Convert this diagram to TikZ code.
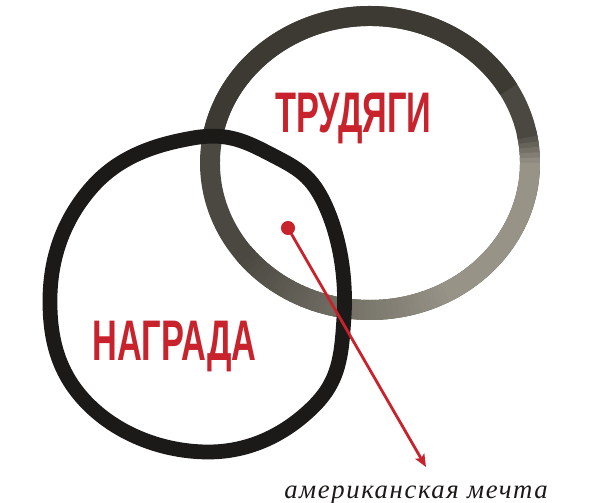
\documentclass[tikz,border=0pt]{standalone}
\usepackage{fontspec}
\usepackage{tikz}
\usetikzlibrary{arrows.meta}

\newfontfamily\titlu[FakeStretch=0.6]{Liberation Sans Bold}
\newfontfamily\cursiv[LetterSpace=6]{Liberation Serif Italic}

\definecolor{rosu}{HTML}{C8232C}
\definecolor{negru}{HTML}{1C1A18}
\definecolor{gri0}{HTML}{3D3A34}
\definecolor{gri1}{HTML}{4B4841}
\definecolor{gri5}{HTML}{979387}

\begin{document}
\begin{tikzpicture}[x=0.025cm, y=-0.025cm]
        \useasboundingbox (0,0) rectangle (600,503);

        % Desenează inelele.
        \tikzstyle{inel} = [line width=14.2pt, line cap=butt]
        \draw[inel, gri1] (370,163) ellipse [x radius=160, y radius=147];
        \draw[inel, gri0] (370,163) ++(190:160 and 147)
            arc[start angle=190, end angle=330, x radius=160, y radius=147];
        \foreach \a in {-12,-10,...,140} {
            \pgfmathsetmacro\p{max(0, min(100, 9*(\a+12), 100-1.25*(\a-60)))}
            \draw[inel, gri5!\p!gri1] (370,163) ++(\a:160 and 147)
                arc[start angle=\a, end angle=\a+2.6, x radius=160, y radius=147];
        }
        \draw[line width=10.5pt, negru] plot[smooth cycle, tension=0.7] coordinates
            {(193,138) (272,155) (326,207) (344,317) (313,407)
             (207,452) (89,405) (50,297) (93,186)};

        % Textele.
        \tikzstyle{eticheta} = [anchor=base west, inner sep=0, text=rosu,
                                font=\titlu\fontsize{40.7}{44}\selectfont]
        \node[eticheta] (trudyagi) at (275,133) {ТРУДЯГИ};
        \node[eticheta] (nagrada)  at (92,361)  {НАГРАДА};
        \node[anchor=base west, inner sep=0, text=negru,
              font=\cursiv\fontsize{19}{23}\selectfont] (mechta) at (284,499)
            {американская мечта};

        % Săgeata.
        \tikzstyle{sageata} = [-{Stealth[length=9pt, width=7.5pt, inset=2pt]},
                               line width=2pt, rosu]
        \node[circle, fill=rosu, inner sep=0, minimum size=10pt] (punct) at (288,228) {};
        \coordinate (varf) at (426,467);
        \draw[sageata] (punct.center) -- (varf);
    \end{tikzpicture}
\end{document}
